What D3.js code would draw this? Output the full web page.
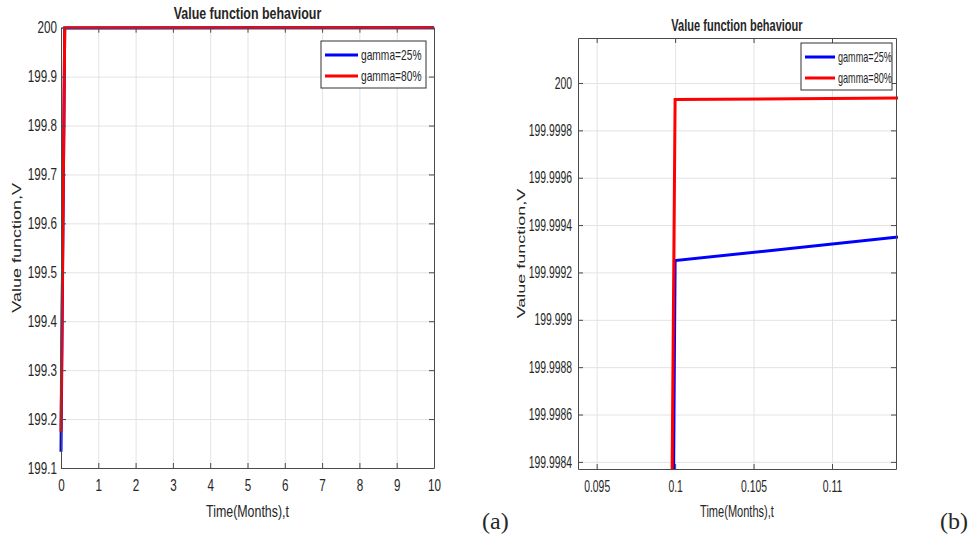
<!DOCTYPE html>
<html>
<head>
<meta charset="utf-8">
<script src="https://cdn.jsdelivr.net/npm/d3@7"></script>
<style>
  body { margin: 0; background: #fff; }
  svg { display: block; }
  text { font-family: "Liberation Sans", Arial, sans-serif; fill: #262626; }
</style>
</head>
<body>
<div id="chart"></div>
<script>
'use strict';

// series (t in months, V)
var times      = [0, 0.1, 0.12, 10];
var gamma25    = [199.133, 199.99925, 199.99939, 200];
var gamma80    = [199.174, 199.99993, 199.99994, 200];
var seriesNames = ['gamma=25%', 'gamma=80%'];

// tick labels
var xTicksA = [0, 1, 2, 3, 4, 5, 6, 7, 8, 9, 10];
var yTicksA = [199.1, 199.2, 199.3, 199.4, 199.5, 199.6, 199.7, 199.8, 199.9, 200];
var xTicksB = [0.095, 0.1, 0.105, 0.11];
var yTicksB = [199.9984, 199.9986, 199.9988, 199.999, 199.9992, 199.9994, 199.9996, 199.9998, 200];

var colors = ['#0000ff', '#ff0000'];

var svg = d3.select('#chart')
  .append('svg')
  .attr('width', 970)
  .attr('height', 535);

function panel (o) {
  var w = o.x1 - o.x0, h = o.y1 - o.y0;
  var x = d3.scaleLinear().domain(o.xDomain).range([0, w]);
  var y = d3.scaleLinear().domain(o.yDomain).range([h, 0]);
  var sx = o.squeeze;

  var g = svg.append('g').attr('transform', 'translate(' + o.x0 + ',' + o.y0 + ')');

  // grid
  g.append('g')
    .attr('transform', 'translate(0,' + h + ')')
    .call(d3.axisBottom(x).tickValues(o.xTicks).tickSize(-h).tickFormat(''))
    .call(function (s) { s.select('.domain').remove(); s.selectAll('line').attr('stroke', '#e3e3e3'); });
  g.append('g')
    .call(d3.axisLeft(y).tickValues(o.yTicks).tickSize(-w).tickFormat(''))
    .call(function (s) { s.select('.domain').remove(); s.selectAll('line').attr('stroke', '#e3e3e3'); });

  // lines
  var clipId = 'clip' + o.id;
  g.append('clipPath').attr('id', clipId)
    .append('rect').attr('x', -2).attr('y', -2).attr('width', w + 4).attr('height', h + 2);

  var line = d3.line()
    .x(function (d) { return x(d[0]); })
    .y(function (d) { return y(d[1]); });

  [gamma25, gamma80].forEach(function (vals, i) {
    g.append('path')
      .datum(times.map(function (t, k) { return [t, vals[k]]; }))
      .attr('clip-path', 'url(#' + clipId + ')')
      .attr('fill', 'none')
      .attr('stroke', colors[i])
      .attr('stroke-width', 3)
      .attr('stroke-linejoin', 'miter')
      .attr('d', line);
  });

  // box with inward ticks
  function styleAxis (s) {
    s.select('.domain').attr('stroke', '#4a4a4a');
    s.selectAll('.tick line').attr('stroke', '#4a4a4a');
  }
  var bottom = g.append('g')
    .attr('transform', 'translate(0,' + h + ')')
    .call(d3.axisBottom(x).tickValues(o.xTicks).tickSizeInner(-5).tickSizeOuter(0).tickPadding(12).tickFormat(o.xFmt))
    .call(styleAxis);
  bottom.selectAll('text')
    .attr('transform', 'scale(' + sx + ',1)')
    .style('font-size', '16px').attr('fill', '#262626');

  var left = g.append('g')
    .call(d3.axisLeft(y).tickValues(o.yTicks).tickSizeInner(-5).tickSizeOuter(0).tickPadding(o.yPad).tickFormat(o.yFmt))
    .call(styleAxis);
  left.selectAll('text')
    .attr('x', -o.yPad / sx)
    .attr('transform', 'scale(' + sx + ',1)')
    .style('font-size', '16px').attr('fill', '#262626');

  g.append('g')
    .call(d3.axisTop(x).tickValues(o.xTicks).tickSizeInner(-5).tickSizeOuter(0).tickFormat(''))
    .call(styleAxis);
  g.append('g')
    .attr('transform', 'translate(' + w + ',0)')
    .call(d3.axisRight(y).tickValues(o.yTicks).tickSizeInner(-5).tickSizeOuter(0).tickFormat(''))
    .call(styleAxis);

  // title and labels
  svg.append('text')
    .attr('transform', 'translate(' + (o.x0 + w / 2) + ',' + o.titleY + ') scale(' + sx + ',1)')
    .attr('text-anchor', 'middle')
    .style('font-size', '17px').style('font-weight', 'bold')
    .attr('fill', '#111')
    .text('Value function behaviour');

  svg.append('text')
    .attr('transform', 'translate(' + (o.x0 + w / 2) + ',517) scale(' + sx + ',1)')
    .attr('text-anchor', 'middle')
    .style('font-size', '17px')
    .text('Time(Months),t');

  svg.append('text')
    .attr('transform', 'translate(' + o.yLabelX + ',' + (o.y0 + h / 2) + ') rotate(-90) scale(1,' + sx + ')')
    .attr('text-anchor', 'middle')
    .attr('dy', '0.35em')
    .style('font-size', '18px')
    .text('Value function,V');

  // legend
  var lg = svg.append('g').attr('transform', 'translate(' + o.legend[0] + ',' + o.legend[1] + ')');
  lg.append('rect')
    .attr('width', o.legend[2]).attr('height', 47)
    .attr('fill', '#fff').attr('stroke', '#333').attr('stroke-width', 1);
  seriesNames.forEach(function (name, i) {
    var yy = 14 + i * 21;
    lg.append('line')
      .attr('x1', 4).attr('x2', 4 + o.legendLine)
      .attr('y1', yy).attr('y2', yy)
      .attr('stroke', colors[i]).attr('stroke-width', 3);
    lg.append('text')
      .attr('transform', 'translate(' + (o.legendLine + 7) + ',' + yy + ') scale(' + sx + ',1)')
      .attr('dy', '0.35em')
      .style('font-size', '14px')
      .text(name);
  });
}

panel({
  id: 'a', x0: 61, x1: 434, y0: 27.7, y1: 468,
  xDomain: [0, 10], yDomain: [199.1, 200],
  xTicks: xTicksA, yTicks: yTicksA,
  xFmt: function (d) { return String(d); },
  yFmt: function (d) { return String(+d.toFixed(1)); },
  yPad: 4, squeeze: 0.73, titleY: 19, yLabelX: 16,
  legend: [321, 41, 105], legendLine: 33
});

panel({
  id: 'b', x0: 578, x1: 896, y0: 38, y1: 469,
  xDomain: [0.09381, 0.11408], yDomain: [199.99837, 200.00019],
  xTicks: xTicksB, yTicks: yTicksB,
  xFmt: function (d) { return String(+d.toFixed(3)); },
  yFmt: function (d) { return String(+d.toFixed(4)); },
  yPad: 6, squeeze: 0.65, titleY: 31, yLabelX: 521,
  legend: [801, 43, 91], legendLine: 30
});

// panel tags
[['(a)', 482], ['(b)', 940]].forEach(function (p) {
  svg.append('text')
    .attr('x', p[1]).attr('y', 529)
    .style('font-family', '"Liberation Serif", "Times New Roman", serif')
    .style('font-size', '24px')
    .attr('fill', '#000')
    .text(p[0]);
});
</script>
</body>
</html>
